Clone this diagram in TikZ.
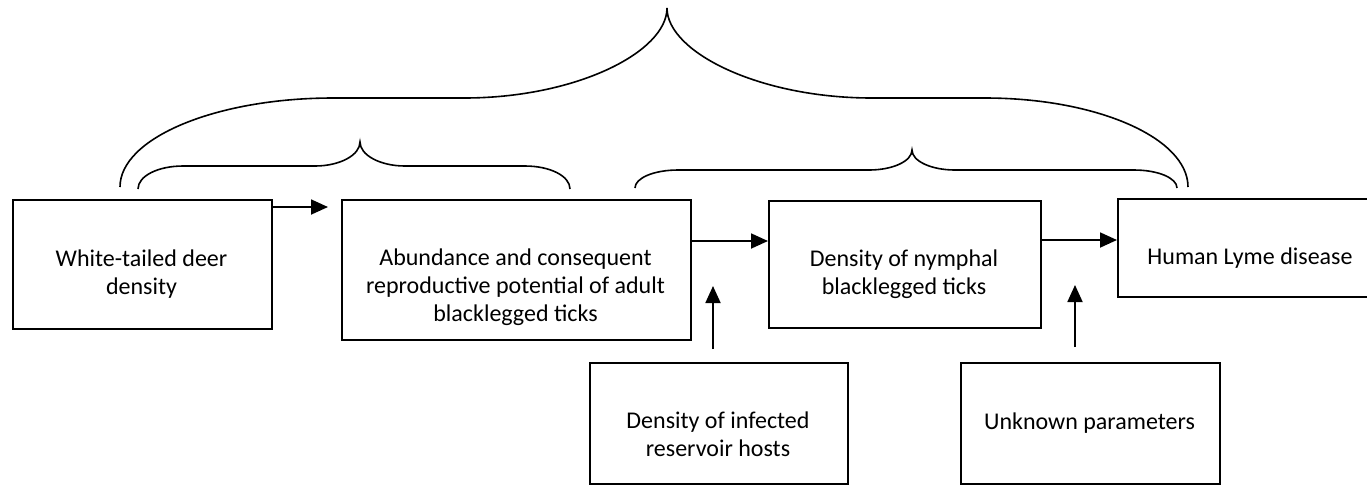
\documentclass[tikz,border=0pt]{standalone}
\usepackage{fontspec}
\setmainfont{Carlito}
\usetikzlibrary{arrows.meta}

\begin{document}
\begin{tikzpicture}[
        x=0.5pt,
        y=-0.5pt,
        every node/.style={font=\fontsize{12}{14}\selectfont},
        factorbox/.style={
            draw,
            line width=0.8pt,
            anchor=north west,
            inner sep=0pt
        },
        boxtext/.style={
            align=center,
            anchor=base,
            inner sep=0pt
        },
        effect/.style={
            line width=0.9pt,
            -{Triangle[length=8.5pt,width=7.5pt]}
        },
        grouping/.style={
            line width=0.8pt
        }
    ]
        \useasboundingbox (0,0) rectangle (1367,484);

        % Top row of boxes, y grows downwards (pixel grid)
        \node[factorbox, minimum width=129.5pt, minimum height=64.5pt]
            (deer) at (12,199) {};
        \node[factorbox, minimum width=174.5pt, minimum height=70pt]
            (adult) at (341,199) {};
        \node[factorbox, minimum width=136pt, minimum height=63.5pt]
            (nymph) at (768,200) {};
        \node[factorbox, minimum width=133pt, minimum height=49pt]
            (human) at (1117,198) {};

        % text is placed by the baseline of its last line
        \node[boxtext] (deertext) at (141.5,294)
            {White-tailed deer\\density};
        \node[boxtext] (adulttext) at (515.5,321)
            {Abundance and consequent\\reproductive potential of adult\\blacklegged ticks};
        \node[boxtext] (nymphtext) at (904,294)
            {Density of nymphal\\blacklegged ticks};
        \node[boxtext] (humantext) at (1250,264)
            {Human Lyme disease};

        % Lower row: the two extra inputs
        \node[factorbox, minimum width=129pt, minimum height=60.5pt]
            (hosts) at (589,362) {};
        \node[factorbox, minimum width=129.5pt, minimum height=60.5pt]
            (unknown) at (960,362) {};

        \node[boxtext] (hoststext) at (718,456)
            {Density of infected\\reservoir hosts};
        \node[boxtext] (unknowntext) at (1089.5,429)
            {Unknown parameters};

        % Arrows between the boxes
        \coordinate (deerhead) at (328,207);
        \coordinate (adultlevel) at (0,241);
        \coordinate (nymphlevel) at (0,240);

        \draw[effect] (deer.east |- deerhead) -- (deerhead);
        \draw[effect] (adult.east |- adultlevel) -- (nymph.west |- adultlevel);
        \draw[effect] (nymph.east |- nymphlevel) -- (human.west |- nymphlevel);

        % Arrows coming up from the lower row
        \coordinate (hoststail) at (713,349);
        \coordinate (hostshead) at (713,286);
        \coordinate (unknowntail) at (1075,347);
        \coordinate (unknownhead) at (1075,285);

        \draw[effect] (hoststail) -- (hostshead);
        \draw[effect] (unknowntail) -- (unknownhead);

        % Braces: deer -> adult ticks, adult ticks -> Lyme, and the whole chain
        \draw[grouping]
            (138,189) .. controls (138,176) and (158,166) .. (183,166)
            -- (315,166) .. controls (340,166) and (360,155) .. (360,142)
            .. controls (360,155) and (380,166) .. (405,166)
            -- (525,166) .. controls (550,166) and (570,176) .. (570,189);
        \draw[grouping]
            (635,188) .. controls (635,178) and (654,170) .. (678,170)
            -- (869,170) .. controls (893,170) and (912,161) .. (912,150)
            .. controls (912,161) and (931,170) .. (955,170)
            -- (1134,170) .. controls (1158,170) and (1177,178) .. (1177,188);
        \draw[grouping]
            (120,187) .. controls (120,138) and (216,98) .. (333,98)
            -- (464,98) .. controls (576,98) and (667,52) .. (667,8)
            .. controls (667,52) and (759,98) .. (872,98)
            -- (985,98) .. controls (1097,98) and (1188,138) .. (1188,187);
    \end{tikzpicture}
\end{document}
